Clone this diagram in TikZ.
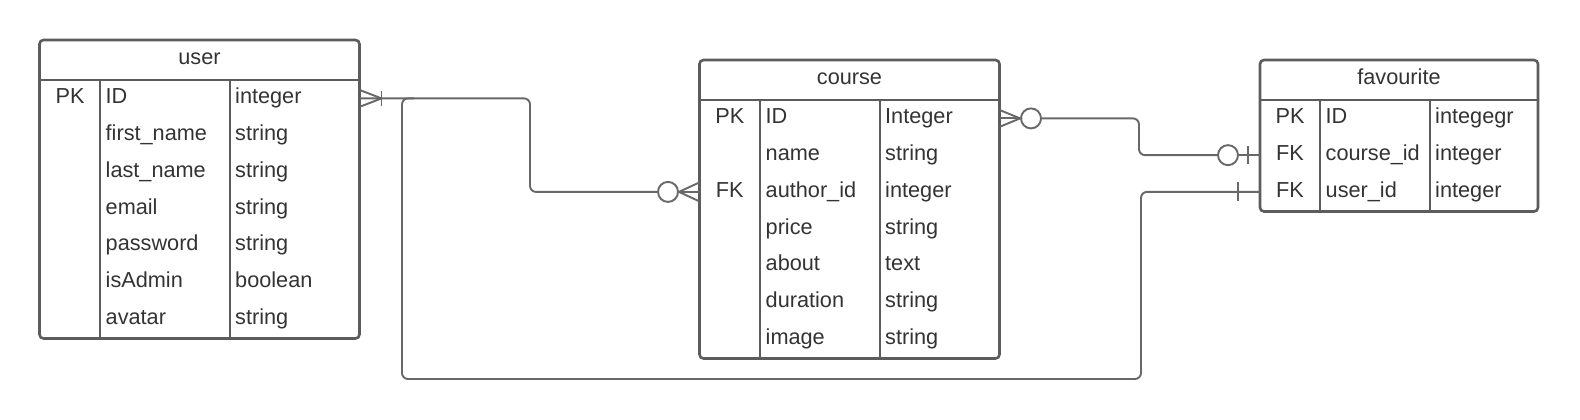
\documentclass[tikz,border=0pt]{standalone}
\usepackage{fontspec}
\setmainfont{Liberation Sans}
\definecolor{linegray}{HTML}{5C5C5C}
\definecolor{relgray}{HTML}{686868}
\definecolor{textgray}{HTML}{333333}

\begin{document}
\begin{tikzpicture}[x=1pt, y=-1pt,
	tablebox/.style={draw=linegray, line width=2.6pt, rounded corners=4pt, inner sep=0pt, outer sep=0pt, anchor=north west},
	tableline/.style={draw=linegray, line width=2.6pt},
	cell/.style={text=textgray, font=\fontsize{21.7}{26}\selectfont, inner sep=0pt, text height=16pt, text depth=5pt},
	field/.style={cell, anchor=west},
	relation/.style={draw=relgray, line width=1.9pt, rounded corners=6pt},
	footline/.style={draw=relgray, line width=1.9pt},
	optional/.style={circle, draw=relgray, line width=1.9pt, fill=white, minimum size=20pt, inner sep=0pt}]
	\useasboundingbox (0,0) rectangle (1580,420);

	% user
	\node[tablebox, minimum width=320pt, minimum height=298.5pt] (user) at (39.5,40) {};
	\draw[tableline] (user.west |- 0,80) -- (user.east |- 0,80);
	\draw[tableline] (100,80) -- (100,338.5);
	\draw[tableline] (230,80) -- (230,338.5);
	\node[cell] (u-title) at (199.5,58.6) {user};
	\node[cell] (u1k) at (70,98.4) {PK}; \node[field] (u1n) at (105.5,98.4) {ID}; \node[field] (u1t) at (235,98.4) {integer};
	\node[field] (u2n) at (105.5,135.15) {first\_name}; \node[field] (u2t) at (235,135.15) {string};
	\node[field] (u3n) at (105.5,171.9) {last\_name}; \node[field] (u3t) at (235,171.9) {string};
	\node[field] (u4n) at (105.5,208.65) {email}; \node[field] (u4t) at (235,208.65) {string};
	\node[field] (u5n) at (105.5,245.4) {password}; \node[field] (u5t) at (235,245.4) {string};
	\node[field] (u6n) at (105.5,282.15) {isAdmin}; \node[field] (u6t) at (235,282.15) {boolean};
	\node[field] (u7n) at (105.5,318.9) {avatar}; \node[field] (u7t) at (235,318.9) {string};

	% course
	\node[tablebox, minimum width=300pt, minimum height=298.5pt] (course) at (699.5,60) {};
	\draw[tableline] (course.west |- 0,100) -- (course.east |- 0,100);
	\draw[tableline] (760,100) -- (760,358.5);
	\draw[tableline] (880,100) -- (880,358.5);
	\node[cell] (c-title) at (849.5,78.6) {course};
	\node[cell] (c1k) at (729.75,118.4) {PK}; \node[field] (c1n) at (765.5,118.4) {ID}; \node[field] (c1t) at (885,118.4) {Integer};
	\node[field] (c2n) at (765.5,155.15) {name}; \node[field] (c2t) at (885,155.15) {string};
	\node[cell] (c3k) at (729.75,191.9) {FK}; \node[field] (c3n) at (765.5,191.9) {author\_id}; \node[field] (c3t) at (885,191.9) {integer};
	\node[field] (c4n) at (765.5,228.65) {price}; \node[field] (c4t) at (885,228.65) {string};
	\node[field] (c5n) at (765.5,265.4) {about}; \node[field] (c5t) at (885,265.4) {text};
	\node[field] (c6n) at (765.5,302.15) {duration}; \node[field] (c6t) at (885,302.15) {string};
	\node[field] (c7n) at (765.5,338.9) {image}; \node[field] (c7t) at (885,338.9) {string};

	% favourite
	\node[tablebox, minimum width=278pt, minimum height=151.5pt] (favourite) at (1260,60) {};
	\draw[tableline] (favourite.west |- 0,100) -- (favourite.east |- 0,100);
	\draw[tableline] (1320,100) -- (1320,211.5);
	\draw[tableline] (1430,100) -- (1430,211.5);
	\node[cell] (f-title) at (1399,78.6) {favourite};
	\node[cell] (f1k) at (1290,118.4) {PK}; \node[field] (f1n) at (1325.5,118.4) {ID}; \node[field] (f1t) at (1435,118.4) {integegr};
	\node[cell] (f2k) at (1290,155.15) {FK}; \node[field] (f2n) at (1325.5,155.15) {course\_id}; \node[field] (f2t) at (1435,155.15) {integer};
	\node[cell] (f3k) at (1290,191.9) {FK}; \node[field] (f3n) at (1325.5,191.9) {user\_id}; \node[field] (f3t) at (1435,191.9) {integer};

	% relation ends
	\coordinate (uid) at (user.east |- u1n.west);
	\coordinate (cfk) at (course.west |- c3n.west);
	\coordinate (cid) at (course.east |- c1n.west);
	\coordinate (fcid) at (favourite.west |- f2n.west);
	\coordinate (fuid) at (favourite.west |- f3n.west);
	\coordinate (join) at (414,98.4);
	\node[optional] (o1) at (668,191.9) {};
	\node[optional] (o2) at (1031,118.4) {};
	\node[optional] (o3) at (1228,155.15) {};

	% user -- course
	\draw[relation] (uid) -- ++(170.5,0) |- (o1.west);
	\draw[footline] ([yshift=8.5pt]uid) -- ([xshift=22pt]uid) -- ([yshift=-8.5pt]uid);
	\draw[footline] ([xshift=22pt,yshift=7.5pt]uid) -- ([xshift=22pt,yshift=-7.5pt]uid);
	\draw[footline] ([yshift=9.5pt]cfk) -- (o1.east) -- ([yshift=-9.5pt]cfk);
	\draw[footline] (o1.east) -- (cfk);

	% course -- favourite
	\draw[footline] ([yshift=8.5pt]cid) -- (o2.west) -- ([yshift=-8.5pt]cid);
	\draw[footline] (cid) -- (o2.west);
	\draw[relation] (o2.east) -- (1139,118.4) |- (o3.west);
	\draw[footline] (o3.east) -- (fcid);
	\draw[footline] ([xshift=-12pt,yshift=9pt]fcid) -- ([xshift=-12pt,yshift=-9pt]fcid);

	% user -- favourite
	\draw[relation] (fuid) -- (1141,191.9) -- (1141,379) -- (402,379) -- (402,98.4) -- (join);
	\draw[footline] ([xshift=-22pt,yshift=9.5pt]fuid) -- ([xshift=-22pt,yshift=-9.5pt]fuid);
\end{tikzpicture}
\end{document}
